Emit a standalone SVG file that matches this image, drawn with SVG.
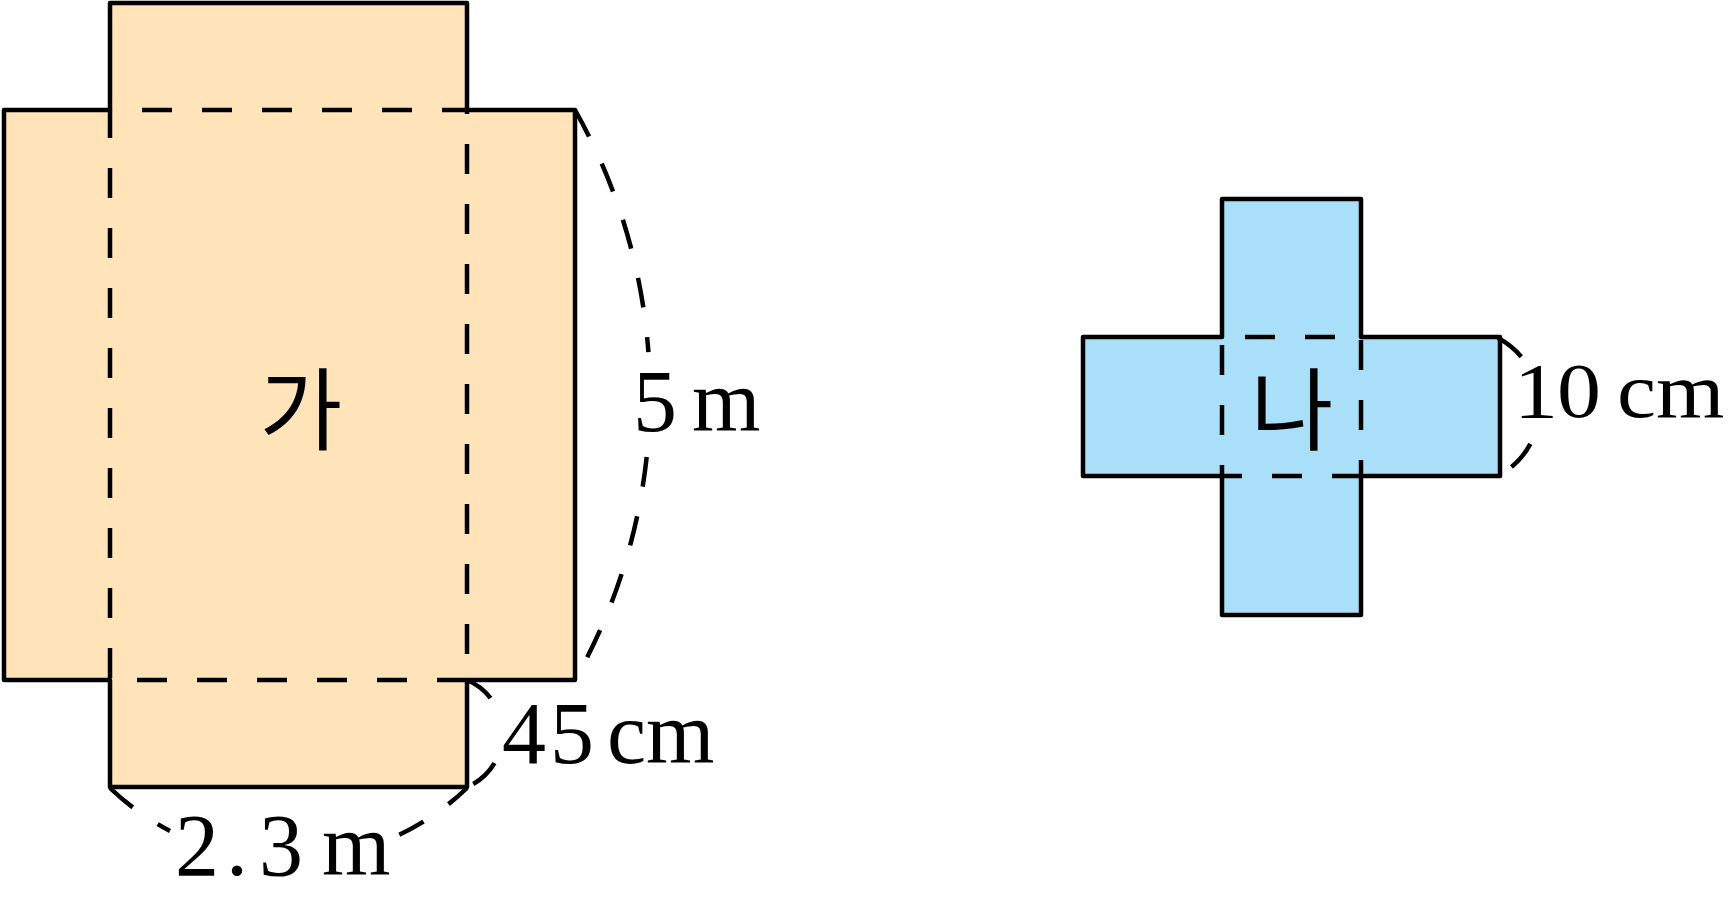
<svg xmlns="http://www.w3.org/2000/svg" width="1732" height="904" viewBox="0 0 1732 904">
<style>
.outline{stroke:#000;stroke-width:4.5;stroke-linejoin:round;fill:none}
.dash{stroke:#000;stroke-width:4.5;fill:none;stroke-dasharray:30 30;stroke-linecap:butt}
.arc{stroke:#000;stroke-width:4.5;fill:none;stroke-linecap:butt}
.lbl{font-family:'Liberation Serif','DejaVu Serif',serif;font-size:88px;fill:#000}
.kr{font-family:'Noto Sans CJK KR','Noto Sans',sans-serif;font-size:90px;fill:#000;text-anchor:middle}
</style>
<rect width="1732" height="904" fill="#fff"/>
<g id="net-ga">
<path d="M110,3 H467 V110 H575 V680 H467 V787 H110 V680 H4 V110 H110 Z" fill="#FFE4BA"/>
<path class="dash" d="M110,110 H467" stroke-dashoffset="28"/>
<path class="dash" d="M110,680 H467" stroke-dashoffset="33"/>
<path class="dash" d="M110,110 V680" stroke-dashoffset="2"/>
<path class="dash" d="M467,110 V680" stroke-dashoffset="26"/>
<path class="outline" d="M110,3 H467 V110 H575 V680 H467 V787 H110 V680 H4 V110 H110 Z"/>
<text class="kr" x="301" y="443">가</text>
</g>
<g id="net-na">
<path d="M1222,199 H1361 V337 H1500 V476 H1361 V615 H1222 V476 H1083 V337 H1222 Z" fill="#A9DFF9"/>
<path class="dash" d="M1222,337 H1361" stroke-dashoffset="37"/>
<path class="dash" d="M1222,476 H1361" stroke-dashoffset="10"/>
<path class="dash" d="M1222,337 V476" stroke-dashoffset="52"/>
<path class="dash" d="M1361,337 V476" stroke-dashoffset="57"/>
<path class="outline" d="M1222,199 H1361 V337 H1500 V476 H1361 V615 H1222 V476 H1083 V337 H1222 Z"/>
<text class="kr" x="1292" y="443">나</text>
</g>
<g id="connectors">
<path class="arc" d="M575,110 A579,579 0 0 1 575,680" stroke-dasharray="30 30 30 30 30 30 30 30 15 105 30 30 30 30 30 30 30 30"/>
<path class="arc" d="M467,680 A58,58 0 0 1 467,787" stroke-dasharray="30 69 30 20"/>
<path class="arc" d="M110,788 A258,258 0 0 0 467,788" stroke-dasharray="30 30 14 237.5 27.5 30.5 25"/>
<path class="arc" d="M1498,338 A78,78 0 0 1 1498,476" stroke-dasharray="30 93 30 16"/>
</g>
<g id="labels">
<text class="lbl" y="431"><tspan x="633">5</tspan> <tspan x="692">m</tspan></text>
<text class="lbl" y="763"><tspan x="502">4</tspan><tspan x="550">5</tspan> <tspan x="607">cm</tspan></text>
<text class="lbl" y="875"><tspan x="175">2</tspan><tspan x="226">.</tspan><tspan x="259">3</tspan> <tspan x="322">m</tspan></text>
<text class="lbl" transform="translate(0,417) scale(1,0.9)"><tspan x="1514" y="0">1</tspan><tspan x="1557" y="0">0</tspan> <tspan x="1617" y="0">cm</tspan></text>
</g>
</svg>
